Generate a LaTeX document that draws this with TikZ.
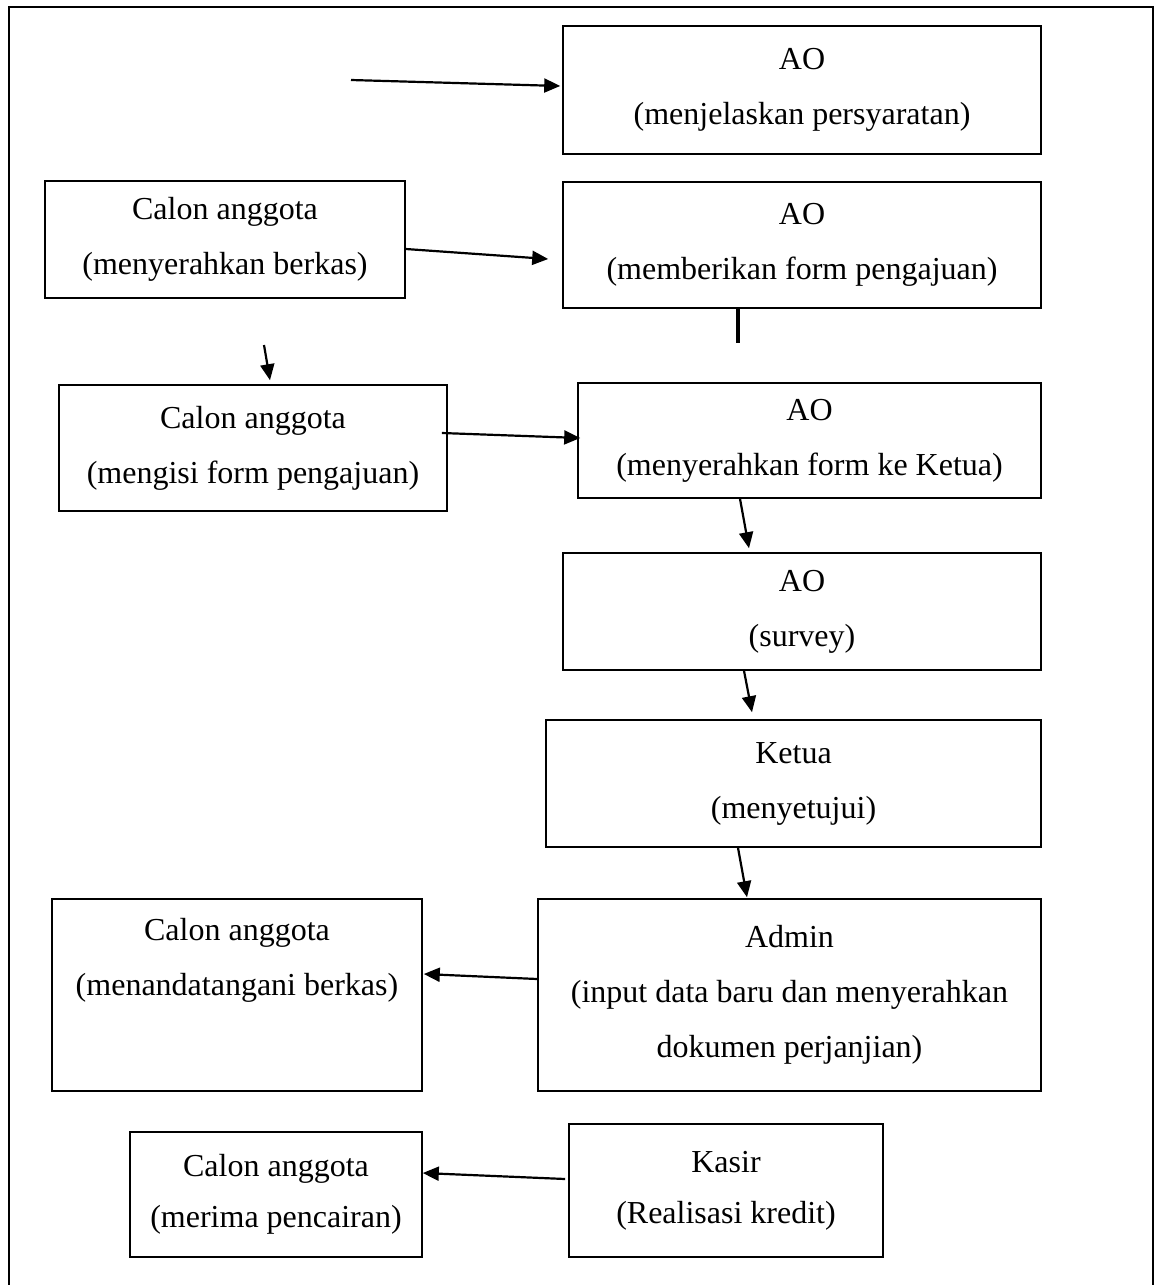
\documentclass[tikz,border=0pt]{standalone}
\usepackage{fontspec}
\setmainfont{Liberation Serif}
\usetikzlibrary{arrows.meta}
\tikzset{
  box/.style={draw, line width=1.6pt, inner sep=0pt, align=center, anchor=center,
    font=\fontsize{32}{55}\selectfont},
  tightbox/.style={box, font=\fontsize{32}{51}\selectfont},
  arr/.style={line width=2.2pt, -{Triangle[length=16pt,width=14pt]}},
  frameline/.style={line width=1.6pt},
  stub/.style={line width=3.5pt}
}
\begin{document}
\begin{tikzpicture}[x=1pt,y=-1pt]
\useasboundingbox (0,0) rectangle (1155,1285);
% outer frame (open at the bottom)
\coordinate (fbl) at (9,1290);
\coordinate (ftl) at (9,7);
\coordinate (ftr) at (1153,7);
\coordinate (fbr) at (1153,1290);
\draw[frameline] (fbl) -- (ftl) -- (ftr) -- (fbr);

% boxes
\node[box, minimum width=478pt, minimum height=128pt] (ao1) at (802,90)
  {AO\\(menjelaskan persyaratan)};
\node[box, minimum width=360pt, minimum height=117pt] (cal1) at (225,239.5)
  {Calon anggota\\(menyerahkan berkas)};
\node[box, minimum width=478pt, minimum height=126pt] (ao2) at (802,245)
  {AO\\(memberikan form pengajuan)};
\node[box, minimum width=388pt, minimum height=126pt] (cal2) at (253,448)
  {Calon anggota\\(mengisi form pengajuan)};
\node[box, minimum width=463pt, minimum height=115pt] (ao3) at (809.5,440.5)
  {AO\\(menyerahkan form ke Ketua)};
\node[box, minimum width=478pt, minimum height=117pt] (ao4) at (802,611.5)
  {AO\\(survey)};
\node[box, minimum width=495pt, minimum height=127pt] (ketua) at (793.5,783.5)
  {Ketua\\(menyetujui)};
\node[box, minimum width=503pt, minimum height=192pt] (admin) at (789.5,995)
  {Admin\\(input data baru dan menyerahkan\\dokumen perjanjian)};
\node[box, minimum width=370pt, minimum height=192pt] (cal3) at (237,995)
  {Calon anggota\\(menandatangani berkas)\\[22pt]\mbox{}};
\node[tightbox, minimum width=314pt, minimum height=133pt] (kasir) at (726,1190.5)
  {Kasir\\(Realisasi kredit)};
\node[tightbox, minimum width=292pt, minimum height=125pt] (cal4) at (276,1194.5)
  {Calon anggota\\(merima pencairan)};

% connectors
\coordinate (s1) at (351,80);
\draw[arr] (s1) -- ([xshift=-2pt,yshift=4pt]ao1.west);
\draw[arr] ([yshift=-9.5pt]cal1.east) -- ([xshift=-14pt,yshift=-14pt]ao2.west);
\coordinate (s2) at (264,345);
\draw[arr] (s2) -- ([xshift=17pt,yshift=4pt]cal2.north);
\coordinate (e1) at (738,343);
\draw[stub] ([xshift=-64pt]ao2.south) -- (e1);
\draw[arr] ([xshift=-6pt,yshift=15pt]cal2.east) -- ([xshift=3pt,yshift=2.5pt]ao3.west);
\draw[arr] ([xshift=-69.5pt]ao3.south) -- ([xshift=-53pt,yshift=4pt]ao4.north);
\draw[arr] ([xshift=-58pt]ao4.south) -- ([xshift=-41.5pt,yshift=7pt]ketua.north);
\draw[arr] ([xshift=-55.5pt]ketua.south) -- ([xshift=-42.5pt,yshift=1pt]admin.north);
\draw[arr] ([yshift=16pt]admin.west) -- ([xshift=1pt,yshift=21pt]cal3.east);
\draw[arr] ([xshift=-3pt,yshift=11.5pt]kasir.west) -- ([yshift=21.5pt]cal4.east);
\end{tikzpicture}
\end{document}
